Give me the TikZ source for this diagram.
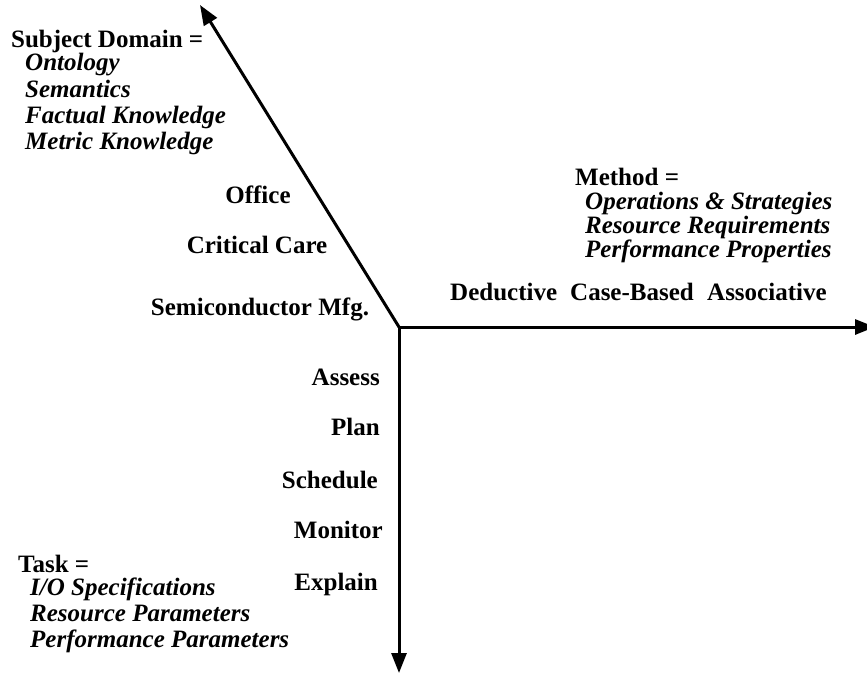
\documentclass[tikz,border=0pt]{standalone}
\usepackage{fontspec}
\setmainfont{Liberation Serif}
\usetikzlibrary{arrows.meta}
\begin{document}
\begin{tikzpicture}[x=1pt,y=-1pt,
  axis/.style={line width=3pt,-{Triangle[length=20pt,width=15pt]}},
  txt/.style={inner sep=0pt,text height=0.7em,text depth=0.2em},
  lbl/.style={txt,font=\fontsize{25}{28}\selectfont\bfseries},
  item/.style={txt,anchor=base west,font=\fontsize{25}{28}\selectfont\bfseries\itshape}]
\useasboundingbox (0,0) rectangle (867,673);

% axes
\coordinate (o) at (399,327);
\coordinate (subj) at (200,5);
\coordinate (meth) at (875,327);
\coordinate (task) at (399,673);
\draw[axis] (o) -- (subj);
\draw[axis] (o) -- (meth);
\draw[axis] (o) -- (task);

% subject domain axis
\node[lbl,anchor=base west] (sd) at (11,47) {Subject Domain =};
\node[item] (sd1) at (25,70) {Ontology};
\node[item] (sd2) at (25,97) {Semantics};
\node[item] (sd3) at (25,123) {Factual Knowledge};
\node[item] (sd4) at (25,149) {Metric Knowledge};
\node[lbl,anchor=base] (office) at (258,203) {Office};
\node[lbl,anchor=base] (cc) at (257,253) {Critical Care};
\node[lbl,anchor=base] (semi) at (260,315) {Semiconductor Mfg.};

% method axis
\node[lbl,anchor=base west] (m) at (575,185) {Method =};
\node[item] (m1) at (585,209) {Operations \& Strategies};
\node[item] (m2) at (585,233) {Resource Requirements};
\node[item] (m3) at (585,257) {Performance Properties};
\node[lbl,anchor=base west] (ded) at (450,300) {Deductive};
\node[lbl,anchor=base west] (cb) at (570,300) {Case-Based};
\node[lbl,anchor=base west] (assoc) at (707,300) {Associative};

% task axis
\node[lbl,anchor=base west] (t) at (18,572) {Task =};
\node[item] (t1) at (30,595) {I/O Specifications};
\node[item] (t2) at (30,621) {Resource Parameters};
\node[item] (t3) at (30,647) {Performance Parameters};
\node[lbl,anchor=base east] (assess) at (380,385) {Assess};
\node[lbl,anchor=base east] (plan) at (380,435) {Plan};
\node[lbl,anchor=base east] (sched) at (378,488) {Schedule};
\node[lbl,anchor=base east] (mon) at (383,538) {Monitor};
\node[lbl,anchor=base east] (expl) at (378,590) {Explain};
\end{tikzpicture}
\end{document}
